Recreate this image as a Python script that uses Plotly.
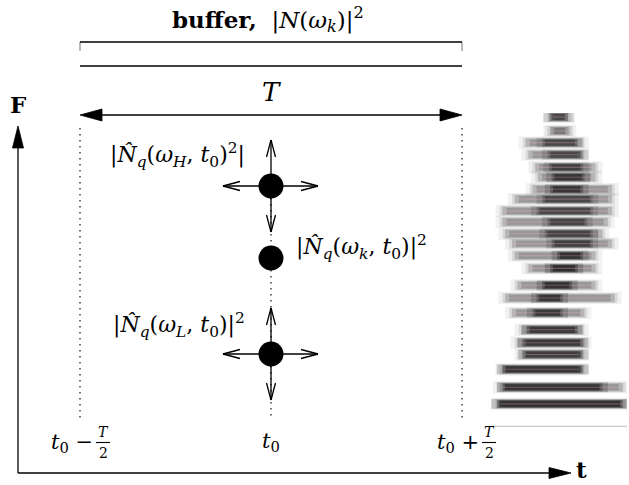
import plotly.graph_objects as go

# ---------------- data ----------------
t0 = 0.0
half_T = 1.0
t_ticks = [t0 - half_T, t0, t0 + half_T]
t_signs = ["−", "", "+"]
freq_names = ["L", "k", "H"]
freq_vals = [1.0, 2.0, 2.75]

# spectrogram harmonic bands (freq in % of image height, extents in fraction of width)
band_freq = [98.7, 94.2, 90.4, 86.5, 82.4, 79.2, 75.3, 72.1, 68.3, 64.7, 60.9, 57.7,
             53.8, 49.7, 44.2, 40.1, 35.3, 29.8, 25.6, 21.8, 17.0, 11.2, 5.8]
band_left = [0.44, 0.44, 0.26, 0.28, 0.33, 0.35, 0.31, 0.18, 0.09, 0.09, 0.11, 0.16,
             0.18, 0.28, 0.20, 0.11, 0.16, 0.23, 0.20, 0.23, 0.09, 0.07, 0.06]
band_right = [0.57, 0.58, 0.67, 0.67, 0.77, 0.77, 0.89, 0.89, 0.89, 0.86, 0.82, 0.89,
              0.77, 0.77, 0.77, 0.91, 0.69, 0.67, 0.69, 0.67, 0.67, 0.97, 0.99]
core_left = [0.45, 0.46, 0.40, 0.44, 0.45, 0.47, 0.46, 0.40, 0.36, 0.44, 0.42, 0.47,
             0.51, 0.46, 0.40, 0.36, 0.33, 0.29, 0.26, 0.26, 0.11, 0.11, 0.07]
core_right = [0.55, 0.55, 0.62, 0.66, 0.66, 0.67, 0.66, 0.73, 0.73, 0.69, 0.73, 0.73,
              0.66, 0.62, 0.58, 0.51, 0.51, 0.62, 0.66, 0.66, 0.66, 0.80, 0.95]
core_dark = [0.6, 0.2, 0.6, 0.6, 0.7, 0.8, 0.8, 0.6, 0.6, 0.65, 0.65, 0.7,
             0.85, 0.9, 0.85, 0.8, 0.75, 0.75, 0.75, 0.7, 0.8, 0.8, 0.85]

# ---------------- geometry of the page ----------------
W, H = 629, 485
PX_T0, PX_PER_T = 271, 191
PY_L, PX_PER_F = 354, 96
AX_Y = 473


def T(px):
    return (px - PX_T0) / PX_PER_T


def F(py):
    return 1 + (PY_L - py) / PX_PER_F


def px_of(t):
    return PX_T0 + t * PX_PER_T


def py_of(f):
    return PY_L - (f - 1) * PX_PER_F


FONT = "DejaVu Serif"
fig = go.Figure()

solid = []   # list of ((x0,y0),(x1,y1)) in px
gray = []
fracbars = []
tris = []    # filled triangles in px


def seg(a, b, lst=solid):
    lst.append((a, b))


def filled_head(tip, d, L=22, w=6):
    (x, y), (dx, dy) = tip, d
    nx, ny = -dy, dx
    bx, by = x - L * dx, y - L * dy
    tris.append([(x, y), (bx + w * nx, by + w * ny), (bx - w * nx, by - w * ny)])


def v_head(tip, d, L=17, w=4.5):
    (x, y), (dx, dy) = tip, d
    nx, ny = -dy, dx
    bx, by = x - L * dx, y - L * dy
    seg((bx + w * nx, by + w * ny), (x, y))
    seg((x, y), (bx - w * nx, by - w * ny))


xl, xr = px_of(t_ticks[0]), px_of(t_ticks[2])
xc = px_of(t0)


def dotted(xpx, y0, y1):
    fig.add_trace(go.Scatter(x=[T(xpx), T(xpx)], y=[F(y0), F(y1)], mode="lines",
                             line=dict(color="#333", width=1.4, dash="1.6px,4.4px"),
                             hoverinfo="skip"))

dotted(xl, 128, 418)
dotted(xr, 128, 418)
dotted(xc, py_of(freq_vals[2]), 418)

# buffer bracket
seg((xl, 42), (xr, 42))
seg((xl, 42), (xl, 51), gray)
seg((xr, 42), (xr, 51), gray)
seg((xl, 66), (xr, 66))
# T double arrow
seg((xl + 15, 115), (xr - 15, 115))
filled_head((xl, 115), (-1, 0), L=22, w=6)
filled_head((xr, 115), (1, 0), L=22, w=6)
# axes
seg((18, AX_Y), (18, 140))
filled_head((18, 126), (0, -1), L=22, w=5.5)
seg((18, AX_Y), (555, AX_Y))
filled_head((571, AX_Y), (1, 0), L=22, w=5.5)

# arrows around H and L points
for f in (freq_vals[0], freq_vals[2]):
    cy = py_of(f)
    for d, n in (((0, -1), 46), ((0, 1), 46), ((-1, 0), 48), ((1, 0), 47)):
        tip = (xc + d[0] * n, cy + d[1] * n)
        seg((xc, cy), tip)
        v_head(tip, d)


def add_segments(lst, color, width):
    xs, ys = [], []
    for (a, b) in lst:
        xs += [T(a[0]), T(b[0]), None]
        ys += [F(a[1]), F(b[1]), None]
    fig.add_trace(go.Scatter(x=xs, y=ys, mode="lines", line=dict(color=color, width=width),
                             hoverinfo="skip"))


# ---------------- text ----------------
ann = []


def text(px, py, s, size=20, xanchor="center", yanchor="middle"):
    ann.append(dict(x=T(px), y=F(py), xref="x", yref="y", text=s, showarrow=False,
                    font=dict(family=FONT, size=size, color="black"),
                    xanchor=xanchor, yanchor=yanchor))

text(xc - 3, 19, "<b>buffer,</b>  |<i>N</i>(<i>ω</i><sub><i>k</i></sub>)|<sup>2</sup>", size=23)
text(xc, 92, "<i>T</i>", size=26)
text(18, 104, "<b>F</b>", size=23)
text(581, 469, "<b>t</b>", size=23)

Nhat = "<i>N\u0302</i><sub><i>q</i></sub>"
lab = {
    "H": "|" + Nhat + "(<i>ω</i><sub><i>H</i></sub>, <i>t</i><sub>0</sub>)<sup>2</sup>|",
    "k": "|" + Nhat + "(<i>ω</i><sub><i>k</i></sub>, <i>t</i><sub>0</sub>)|<sup>2</sup>",
    "L": "|" + Nhat + "(<i>ω</i><sub><i>L</i></sub>, <i>t</i><sub>0</sub>)|<sup>2</sup>",
}
for name, f in zip(freq_names, freq_vals):
    cy = py_of(f)
    if name == "H":
        text(xc - 24, cy - 31, lab[name], size=22, xanchor="right")
    elif name == "k":
        text(xc + 23, cy - 11, lab[name], size=22, xanchor="left")
    else:
        text(xc - 24, cy - 29, lab[name], size=22, xanchor="right")

for t, sgn in zip(t_ticks, t_signs):
    px = px_of(t)
    if sgn == "":
        text(px, 442, "<i>t</i><sub>0</sub>", size=21)
    else:
        fc = px + (23 if sgn == "−" else 27)
        text(fc - 8, 443, "<i>t</i><sub>0</sub> " + sgn, size=21, xanchor="right")
        text(fc, 432, "<i>T</i>", size=14)
        text(fc, 453, "2", size=14)
        seg((fc - 7, 442.5), (fc + 7, 442.5), fracbars)

add_segments(gray, "#888", 1.2)
add_segments(solid, "black", 1.3)
add_segments(fracbars, "black", 1.1)
for tri in tris:
    fig.add_trace(go.Scatter(x=[T(p[0]) for p in tri] + [T(tri[0][0])],
                             y=[F(p[1]) for p in tri] + [F(tri[0][1])],
                             mode="lines", fill="toself", fillcolor="black",
                             line=dict(color="black", width=0.8), hoverinfo="skip"))

# data points
fig.add_trace(go.Scatter(x=[t0] * len(freq_vals), y=freq_vals, mode="markers",
                         marker=dict(size=25, color="black"), hoverinfo="skip"))

# ---------------- spectrogram ----------------
def sbar(left, right, width, color):
    fig.add_trace(go.Bar(y=band_freq, x=[r - l for l, r in zip(left, right)], base=left,
                         orientation="h", width=width,
                         marker=dict(color=color, line_width=0),
                         xaxis="x2", yaxis="y2", hoverinfo="skip"))


def grow(vals, dv):
    return [v + dv for v in vals]

# soft layers to mimic a blurred spectrogram
sbar(grow(band_left, -0.05), grow(band_right, 0.05), 4.0, "rgba(60,60,60,0.07)")
sbar(grow(band_left, -0.02), grow(band_right, 0.02), 3.3, "rgba(50,50,50,0.12)")
sbar(band_left, band_right, 2.7, "rgba(40,40,40,0.20)")
sbar(grow(band_left, 0.03), grow(band_right, -0.03), 2.1, "rgba(40,40,40,0.20)")
sbar(grow(core_left, -0.06), grow(core_right, 0.06), 3.2,
     ["rgba(20,20,20,%.2f)" % (0.25 * d) for d in core_dark])
sbar(grow(core_left, -0.02), grow(core_right, 0.02), 2.6,
     ["rgba(15,15,15,%.2f)" % (0.40 * d) for d in core_dark])
sbar(core_left, core_right, 2.0,
     ["rgba(10,10,10,%.2f)" % (0.55 * d) for d in core_dark])
# faint pinkish ridge lines
sbar(grow(band_left, 0.02), grow(band_right, -0.02), 0.35, "rgba(255,180,180,0.30)")
fig.add_trace(go.Scatter(x=[-0.02, 1.0], y=[-1.5, -1.5], mode="lines", line=dict(color="#ccc", width=1.2),
                         xaxis="x2", yaxis="y2", hoverinfo="skip"))

fig.update_layout(
    width=W, height=H, margin=dict(l=0, r=0, t=0, b=0),
    paper_bgcolor="white", plot_bgcolor="rgba(0,0,0,0)", showlegend=False, barmode="overlay",
    annotations=ann,
    xaxis=dict(range=[T(0), T(W)], visible=False, fixedrange=True, domain=[0, 1]),
    yaxis=dict(range=[F(H), F(0)], visible=False, fixedrange=True, domain=[0, 1]),
    xaxis2=dict(range=[0, 1], visible=False, fixedrange=True, domain=[490 / W, 627 / W], anchor="y2"),
    yaxis2=dict(range=[-2, 100], visible=False, fixedrange=True,
                domain=[1 - 428 / H, 1 - 113 / H], anchor="x2"),
)

fig.write_html("out.html", config={"displayModeBar": False},
               post_script="document.body.style.margin='0px';")
